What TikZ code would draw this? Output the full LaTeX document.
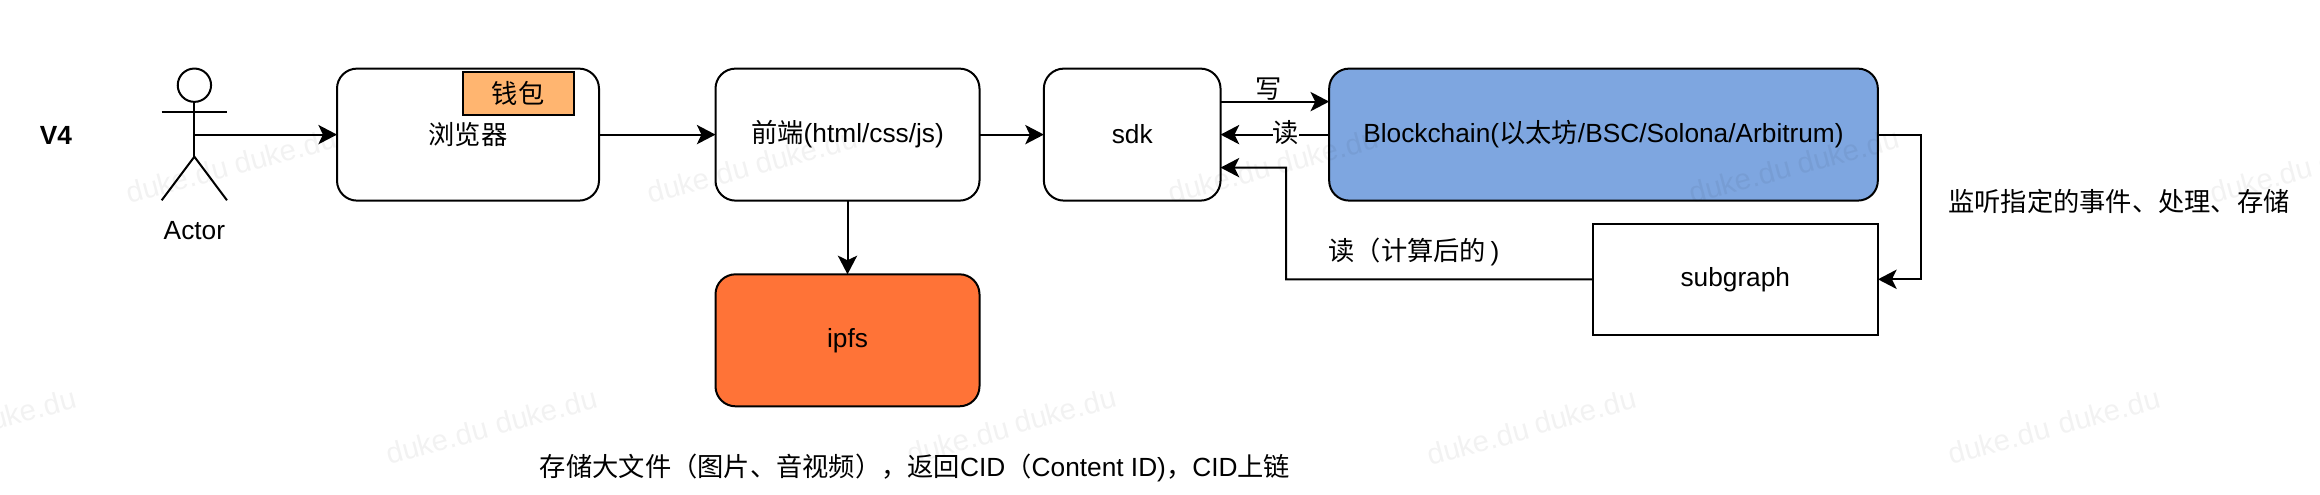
\documentclass[tikz,border=0pt]{standalone}
\usepackage{fontspec}
\setmainfont{Liberation Sans}
\newfontfamily\cjk{Noto Sans CJK SC}
\usepackage{xcolor}
\usepackage{tikz}
\usetikzlibrary{arrows.meta}
\usetikzlibrary{shapes.geometric}
\definecolor{chainblue}{HTML}{7EA6E0}
\definecolor{walletorange}{HTML}{FFB570}
\definecolor{ipfsorange}{HTML}{FF7337}

\begin{document}
\begin{tikzpicture}
[x=0.75pt,y=-0.75pt,
 every node/.style={font=\fontsize{19.7pt}{23pt}\selectfont,inner sep=0pt,outer sep=0pt},
 line/.style={draw=black,line width=1.5pt},
 flow/.style={line,-{Stealth[length=14pt,width=14.5pt,inset=3.5pt]}},
 rbox/.style={rectangle,rounded corners=15pt,draw=black,line width=1.5pt,minimum height=99pt},
 plainbox/.style={rectangle,draw=black,line width=1.5pt},
 wmark/.style={font=\fontsize{22pt}{24pt}\selectfont,text=black,text opacity=0.05,rotate=15}]

\useasboundingbox (0,0) rectangle (2320,494);

\node at (56,135.5) (vfour) {\textbf{V4}};

% actor
\node at (194.4,85.2) [ellipse,draw=black,line width=1.5pt,minimum width=25pt,minimum height=25pt] (head) {};
\coordinate (armleft) at (161.7,112.3);
\coordinate (armright) at (227,112.3);
\coordinate (hip) at (194.4,156.7);
\coordinate (footleft) at (161.7,200.3);
\coordinate (footright) at (227,200.3);
\coordinate (waist) at (194.4,134.6);
\draw [line] (head.south) to (hip);
\draw [line] (armleft) to (armright);
\draw [line] (footleft) to (hip) to (footright);
\node at (194.4,231) (actor) {Actor};

\node at (468,134.6)  [rbox,minimum width=196.5pt] (browser) {{\cjk 浏览器}};
\node at (518.2,93.3) [plainbox,fill=walletorange,minimum width=83pt,minimum height=32.5pt] (wallet) {{\cjk 钱包}};
\node at (847.5,134.6) [rbox,minimum width=198pt] (front) {{\cjk 前端}(html/css/js)};
\node at (1132.2,134.6) [rbox,minimum width=132.5pt] (sdk) {sdk};
\node at (1603.5,134.6) [rbox,fill=chainblue,minimum width=411.5pt] (chain) {Blockchain({\cjk 以太坊}/BSC/Solona/Arbitrum)};
\node at (847.5,340.3) [rbox,fill=ipfsorange,minimum width=198pt] (ipfs) {ipfs};
\node at (1735.3,279.3) [plainbox,minimum width=214pt,minimum height=83pt] (subgraph) {subgraph};

\draw [flow] (waist) to (browser.west);
\draw [flow] (browser.east) to (front.west);
\draw [flow] (front.east) to (sdk.west);
\draw [flow] (front.south) to (ipfs.north);
\draw [flow] ([yshift=24.75pt]sdk.east) to ([yshift=24.75pt]chain.west);
\draw [flow] (chain.west) to (sdk.east);
\draw [flow] (chain.east) -- ++(43.5,0) |- (subgraph.east);
\coordinate (readturn) at (1286,167.7);
\draw [flow] (subgraph.west) -| (readturn) -- ([yshift=-24.75pt]sdk.east);

\node at (1269,89) (writelabel) {{\cjk 写}};
\node at (1286,133) [fill=white] (readlabel) {{\cjk 读}};
\node at (1414,252) (readcalc) {{\cjk 读（计算后的}\,)};
\node at (2119,201) (listen) {{\cjk 监听指定的事件、处理、存储}};
\node at (915,468) (note) {{\cjk 存储大文件（图片、音视频），返回}CID{\cjk （}Content ID){\cjk ，}CID{\cjk 上链}};

% watermark
\foreach \wx/\wy [count=\wi] in {25/411,437/441,546/411,958/441,1065/410,1478/442,1585/411,1999/441,2109/411,
  177/180,285/151,698/180,806/151,1219/180,1327/151,1740/180,1848/151,2261/180,2369/151}
  \node at (\wx,\wy) [wmark] (duke\wi) {duke.du};
\end{tikzpicture}
\end{document}
